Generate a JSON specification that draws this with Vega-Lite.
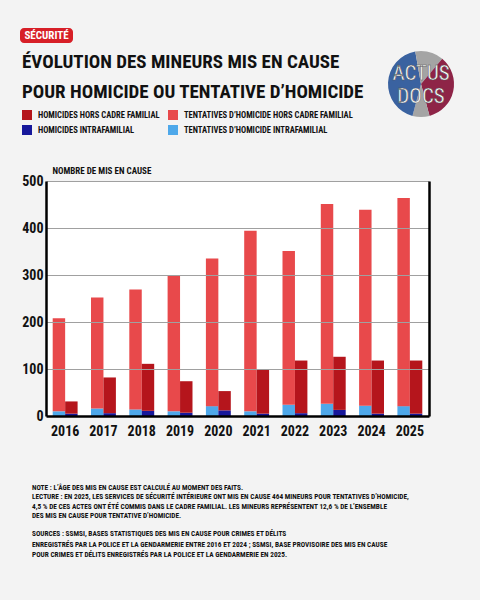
{
  "$schema": "https://vega.github.io/schema/vega-lite/v6.json",
  "background": "#f3f3f3",
  "padding": {"left": 20, "top": 28, "right": 40, "bottom": 60},
  "config": {"font": "Roboto Condensed", "view": {"stroke": null}},
  "spacing": -7,
  "resolve": {"scale": {"color": "independent"}, "legend": {"color": "independent"}},
  "vconcat": [
    {
      "hconcat": [
        {
          "width": 53,
          "height": 15,
          "view": {"fill": "#d71f27", "cornerRadius": 4, "stroke": null},
          "data": {"values": [{"rubrique": "SÉCURITÉ"}]},
          "mark": {"type": "text", "color": "white", "fontSize": 11, "fontWeight": "bold", "baseline": "middle"},
          "encoding": {"text": {"field": "rubrique"}},
          "title": {
            "text": ["ÉVOLUTION DES MINEURS MIS EN CAUSE", "POUR HOMICIDE OU TENTATIVE D’HOMICIDE"],
            "orient": "bottom", "anchor": "start", "frame": "group",
            "fontSize": 19, "fontWeight": "bold", "color": "#111", "lineHeight": 30, "offset": 10, "dx": 2
          }
        },
        {
          "width": 66,
          "height": 66,
          "layer": [
            {
              "data": {"values": [
                {"segment": 1, "zone": "gris", "angle": 40},
                {"segment": 2, "zone": "bordeaux", "angle": 125},
                {"segment": 3, "zone": "gris", "angle": 30},
                {"segment": 4, "zone": "bleu", "angle": 155},
                {"segment": 5, "zone": "gris", "angle": 10}
              ]},
              "mark": {"type": "arc", "outerRadius": 33, "yOffset": 23},
              "encoding": {
                "theta": {"field": "angle", "type": "quantitative", "stack": true},
                "order": {"field": "segment"},
                "color": {"field": "zone", "type": "nominal", "legend": null,
                  "scale": {"domain": ["gris", "bordeaux", "bleu"], "range": ["#a4a4a4", "#8e2447", "#3a62a0"]}}
              }
            },
            {
              "data": {"values": [{"logo": "ACTUS DOCS"}]},
              "mark": {"type": "text", "color": "white", "fontSize": 21, "lineBreak": " ", "lineHeight": 23, "baseline": "middle", "yOffset": 13, "stroke": "#555", "strokeWidth": 0.5},
              "encoding": {"text": {"field": "logo"}}
            }
          ]
        }
      ],
      "spacing": 24
    },
    {
      "spacing": 0,
      "hconcat": [
        {
          "width": 1,
          "height": 1,
          "data": {"values": [{}]},
          "mark": {"type": "point", "opacity": 0, "size": 0}
        },
        {
          "width": 383,
          "height": 235,
          "view": {"fill": "white", "stroke": null},
          "data": {"values": [
            {"annee": "2016", "type": "tentatives", "cadre": "intrafamilial", "serie": "TENTATIVES D’HOMICIDE INTRAFAMILIAL", "nombre": 10},
            {"annee": "2016", "type": "tentatives", "cadre": "hors cadre familial", "serie": "TENTATIVES D’HOMICIDE HORS CADRE FAMILIAL", "nombre": 198},
            {"annee": "2016", "type": "homicides", "cadre": "intrafamilial", "serie": "HOMICIDES INTRAFAMILIAL", "nombre": 5},
            {"annee": "2016", "type": "homicides", "cadre": "hors cadre familial", "serie": "HOMICIDES HORS CADRE FAMILIAL", "nombre": 26},
            {"annee": "2017", "type": "tentatives", "cadre": "intrafamilial", "serie": "TENTATIVES D’HOMICIDE INTRAFAMILIAL", "nombre": 16},
            {"annee": "2017", "type": "tentatives", "cadre": "hors cadre familial", "serie": "TENTATIVES D’HOMICIDE HORS CADRE FAMILIAL", "nombre": 236},
            {"annee": "2017", "type": "homicides", "cadre": "intrafamilial", "serie": "HOMICIDES INTRAFAMILIAL", "nombre": 6},
            {"annee": "2017", "type": "homicides", "cadre": "hors cadre familial", "serie": "HOMICIDES HORS CADRE FAMILIAL", "nombre": 76},
            {"annee": "2018", "type": "tentatives", "cadre": "intrafamilial", "serie": "TENTATIVES D’HOMICIDE INTRAFAMILIAL", "nombre": 14},
            {"annee": "2018", "type": "tentatives", "cadre": "hors cadre familial", "serie": "TENTATIVES D’HOMICIDE HORS CADRE FAMILIAL", "nombre": 255},
            {"annee": "2018", "type": "homicides", "cadre": "intrafamilial", "serie": "HOMICIDES INTRAFAMILIAL", "nombre": 11},
            {"annee": "2018", "type": "homicides", "cadre": "hors cadre familial", "serie": "HOMICIDES HORS CADRE FAMILIAL", "nombre": 100},
            {"annee": "2019", "type": "tentatives", "cadre": "intrafamilial", "serie": "TENTATIVES D’HOMICIDE INTRAFAMILIAL", "nombre": 10},
            {"annee": "2019", "type": "tentatives", "cadre": "hors cadre familial", "serie": "TENTATIVES D’HOMICIDE HORS CADRE FAMILIAL", "nombre": 290},
            {"annee": "2019", "type": "homicides", "cadre": "intrafamilial", "serie": "HOMICIDES INTRAFAMILIAL", "nombre": 7},
            {"annee": "2019", "type": "homicides", "cadre": "hors cadre familial", "serie": "HOMICIDES HORS CADRE FAMILIAL", "nombre": 67},
            {"annee": "2020", "type": "tentatives", "cadre": "intrafamilial", "serie": "TENTATIVES D’HOMICIDE INTRAFAMILIAL", "nombre": 21},
            {"annee": "2020", "type": "tentatives", "cadre": "hors cadre familial", "serie": "TENTATIVES D’HOMICIDE HORS CADRE FAMILIAL", "nombre": 314},
            {"annee": "2020", "type": "homicides", "cadre": "intrafamilial", "serie": "HOMICIDES INTRAFAMILIAL", "nombre": 12},
            {"annee": "2020", "type": "homicides", "cadre": "hors cadre familial", "serie": "HOMICIDES HORS CADRE FAMILIAL", "nombre": 41},
            {"annee": "2021", "type": "tentatives", "cadre": "intrafamilial", "serie": "TENTATIVES D’HOMICIDE INTRAFAMILIAL", "nombre": 10},
            {"annee": "2021", "type": "tentatives", "cadre": "hors cadre familial", "serie": "TENTATIVES D’HOMICIDE HORS CADRE FAMILIAL", "nombre": 384},
            {"annee": "2021", "type": "homicides", "cadre": "intrafamilial", "serie": "HOMICIDES INTRAFAMILIAL", "nombre": 5},
            {"annee": "2021", "type": "homicides", "cadre": "hors cadre familial", "serie": "HOMICIDES HORS CADRE FAMILIAL", "nombre": 95},
            {"annee": "2022", "type": "tentatives", "cadre": "intrafamilial", "serie": "TENTATIVES D’HOMICIDE INTRAFAMILIAL", "nombre": 24},
            {"annee": "2022", "type": "tentatives", "cadre": "hors cadre familial", "serie": "TENTATIVES D’HOMICIDE HORS CADRE FAMILIAL", "nombre": 327},
            {"annee": "2022", "type": "homicides", "cadre": "intrafamilial", "serie": "HOMICIDES INTRAFAMILIAL", "nombre": 6},
            {"annee": "2022", "type": "homicides", "cadre": "hors cadre familial", "serie": "HOMICIDES HORS CADRE FAMILIAL", "nombre": 112},
            {"annee": "2023", "type": "tentatives", "cadre": "intrafamilial", "serie": "TENTATIVES D’HOMICIDE INTRAFAMILIAL", "nombre": 26},
            {"annee": "2023", "type": "tentatives", "cadre": "hors cadre familial", "serie": "TENTATIVES D’HOMICIDE HORS CADRE FAMILIAL", "nombre": 425},
            {"annee": "2023", "type": "homicides", "cadre": "intrafamilial", "serie": "HOMICIDES INTRAFAMILIAL", "nombre": 13},
            {"annee": "2023", "type": "homicides", "cadre": "hors cadre familial", "serie": "HOMICIDES HORS CADRE FAMILIAL", "nombre": 113},
            {"annee": "2024", "type": "tentatives", "cadre": "intrafamilial", "serie": "TENTATIVES D’HOMICIDE INTRAFAMILIAL", "nombre": 22},
            {"annee": "2024", "type": "tentatives", "cadre": "hors cadre familial", "serie": "TENTATIVES D’HOMICIDE HORS CADRE FAMILIAL", "nombre": 417},
            {"annee": "2024", "type": "homicides", "cadre": "intrafamilial", "serie": "HOMICIDES INTRAFAMILIAL", "nombre": 5},
            {"annee": "2024", "type": "homicides", "cadre": "hors cadre familial", "serie": "HOMICIDES HORS CADRE FAMILIAL", "nombre": 113},
            {"annee": "2025", "type": "tentatives", "cadre": "intrafamilial", "serie": "TENTATIVES D’HOMICIDE INTRAFAMILIAL", "nombre": 21},
            {"annee": "2025", "type": "tentatives", "cadre": "hors cadre familial", "serie": "TENTATIVES D’HOMICIDE HORS CADRE FAMILIAL", "nombre": 443},
            {"annee": "2025", "type": "homicides", "cadre": "intrafamilial", "serie": "HOMICIDES INTRAFAMILIAL", "nombre": 5},
            {"annee": "2025", "type": "homicides", "cadre": "hors cadre familial", "serie": "HOMICIDES HORS CADRE FAMILIAL", "nombre": 113}
          ]},
          "title": {
            "text": [
              "NOTE : L’ÂGE DES MIS EN CAUSE EST CALCULÉ AU MOMENT DES FAITS.",
              "LECTURE : EN 2025, LES SERVICES DE SÉCURITÉ INTÉRIEURE ONT MIS EN CAUSE 464 MINEURS POUR TENTATIVES D’HOMICIDE,",
              "4,5 % DE CES ACTES ONT ÉTÉ COMMIS DANS LE CADRE FAMILIAL. LES MINEURS REPRÉSENTENT 12,6 % DE L’ENSEMBLE",
              "DES MIS EN CAUSE POUR TENTATIVE D’HOMICIDE."
            ],
            "subtitle": [
              "SOURCES : SSMSI, BASES STATISTIQUES DES MIS EN CAUSE POUR CRIMES ET DÉLITS",
              "ENREGISTRÉS PAR LA POLICE ET LA GENDARMERIE ENTRE 2016 ET 2024 ; SSMSI, BASE PROVISOIRE DES MIS EN CAUSE",
              "POUR CRIMES ET DÉLITS ENREGISTRÉS PAR LA POLICE ET LA GENDARMERIE EN 2025."
            ],
            "orient": "bottom", "anchor": "start", "frame": "group", "dx": -14, "offset": 46,
            "fontSize": 7.3, "fontWeight": "bold", "lineHeight": 9.3, "color": "#111",
            "subtitleFont": "Roboto Condensed", "subtitleFontSize": 7.3, "subtitleFontWeight": "bold", "subtitleLineHeight": 10.5, "subtitleColor": "#111", "subtitlePadding": 11
          },
          "encoding": {
            "x": {"field": "annee", "type": "nominal", "scale": {"paddingInner": 0.35, "paddingOuter": 0.175},
              "axis": {"domainColor": "#000", "domainWidth": 2.5, "ticks": false, "labelAngle": 0, "labelFontSize": 14, "labelFontWeight": "bold", "labelColor": "#111", "labelPadding": 8, "title": null, "zindex": 1}},
            "xOffset": {"field": "type", "type": "nominal", "sort": ["tentatives", "homicides"], "scale": {"paddingInner": 0, "paddingOuter": 0}}
          },
          "layer": [
            {
              "mark": {"type": "bar"},
              "encoding": {
                "y": {"field": "nombre", "type": "quantitative", "stack": "zero", "scale": {"domain": [0, 500]},
                  "axis": {"values": [0, 100, 200, 300, 400, 500], "domainColor": "#000", "domainWidth": 2.5, "ticks": false, "minExtent": 0,
                    "gridColor": "#a0a0a0", "gridWidth": 1.2, "labelFontSize": 14, "labelFontWeight": "bold", "labelColor": "#111", "labelPadding": 3,
                    "title": "NOMBRE DE MIS EN CAUSE", "titleAngle": 0, "titleAlign": "left", "titleBaseline": "bottom", "titleX": 6, "titleY": -6,
                    "titleFontSize": 9, "titleFontWeight": "bold", "titleColor": "#111", "zindex": 1}},
                "color": {"field": "serie", "type": "nominal",
                  "scale": {"domain": ["HOMICIDES HORS CADRE FAMILIAL", "HOMICIDES INTRAFAMILIAL", "TENTATIVES D’HOMICIDE HORS CADRE FAMILIAL", "TENTATIVES D’HOMICIDE INTRAFAMILIAL"],
                    "range": ["#b5151c", "#17189b", "#e8494b", "#4ea8ea"]},
                  "legend": {"orient": "none", "legendX": 2, "legendY": -71, "columns": 2, "title": null, "symbolType": "square", "symbolSize": 100, "symbolStrokeWidth": 0, "symbolOpacity": 1,
                    "labelFontSize": 8.5, "labelFontWeight": "bold", "labelColor": "#111", "labelLimit": 400, "rowPadding": 5, "columnPadding": 8, "labelOffset": 6}},
                "order": {"field": "cadre", "sort": "descending"}
              }
            },
            {
              "mark": {"type": "bar", "opacity": 0},
              "encoding": {
                "y": {"field": "nombre", "type": "quantitative", "scale": {"domain": [0, 500]},
                  "axis": {"orient": "right", "labels": false, "ticks": false, "grid": false, "title": null, "domainColor": "#000", "domainWidth": 2.5, "zindex": 1, "minExtent": 0}}
              }
            }
          ],
          "resolve": {"axis": {"y": "independent"}}
        }
      ]
    }
  ]
}
